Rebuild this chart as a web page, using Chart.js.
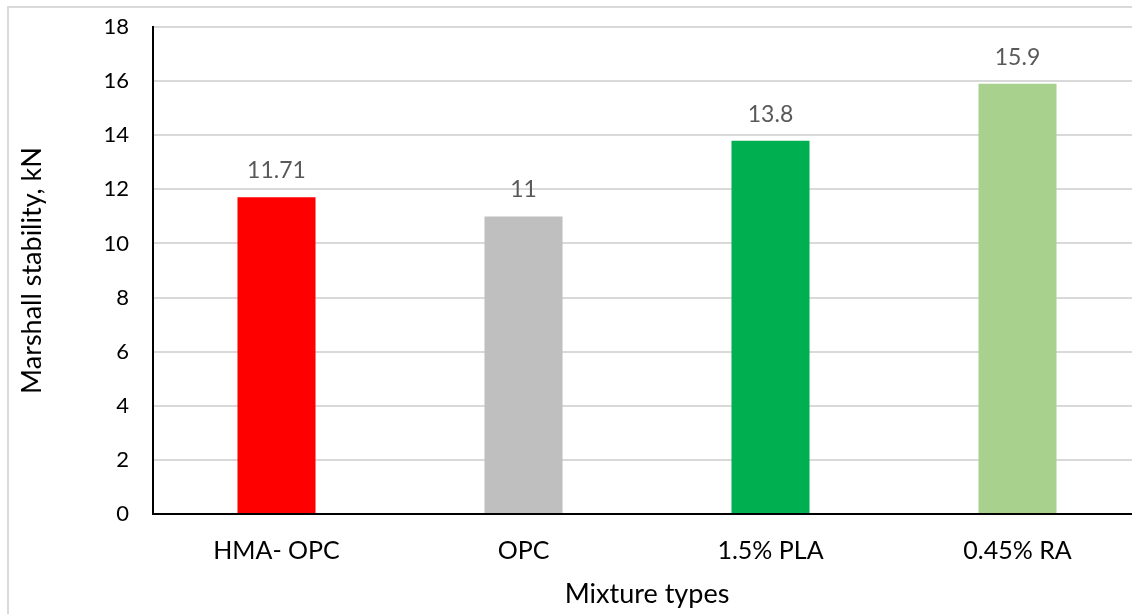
<!DOCTYPE html>
<html>
<head>
<meta charset="utf-8">
<script src="https://cdn.jsdelivr.net/npm/chart.js@4.4.0/dist/chart.umd.min.js"></script>
<style>
  html, body { margin: 0; padding: 0; background: #fff; overflow: hidden; }
  body { width: 1132px; height: 614px; position: relative; }
  #frame { position: absolute; left: 7px; top: 6px; width: 1200px; height: 700px; border: 2px solid #d9d9d9; }
  #wrap { position: absolute; left: 0; top: 0; width: 1141px; height: 614px; }
</style>
</head>
<body>
<div id="frame"></div>
<div id="wrap"><canvas id="grafico"></canvas></div>
<script>
// categorie e valori
var miscele = ['HMA- OPC', 'OPC', '1.5% PLA', '0.45% RA'];
var stabilita = [11.71, 11, 13.8, 15.9];
var etichette = ['11.71', '11', '13.8', '15.9'];
var colori = ['#ff0000', '#bfbfbf', '#00b050', '#a9d18e'];

var font = 'Lato, "Open Sans", sans-serif';

// scrive il valore sopra ogni barra
var valoriSopra = {
    id: 'valoriSopra',
    afterDatasetsDraw: function (chart) {
        var ctx = chart.ctx;
        var meta = chart.getDatasetMeta(0);
        ctx.save();
        ctx.font = '23px ' + font;
        ctx.fillStyle = '#595959';
        ctx.textAlign = 'center';
        ctx.textBaseline = 'bottom';
        meta.data.forEach(function (bar, i) {
            ctx.fillText(etichette[i], bar.x, bar.y - 15);
        });
        ctx.restore();
    }
};

var ctx = document.getElementById('grafico');
var chart = new Chart(ctx, {
    type: 'bar',
    data: {
        labels: miscele,
        datasets: [{
            data: stabilita,
            backgroundColor: colori,
            barPercentage: 0.316,
            categoryPercentage: 1
        }]
    },
    options: {
        responsive: true,
        maintainAspectRatio: false,
        animation: false,
        layout: { padding: { left: 0, right: 0, top: 27, bottom: 0 } },
        plugins: {
            legend: { display: false },
            tooltip: { enabled: false }
        },
        scales: {
            x: {
                grid: { display: false, drawTicks: false },
                border: { color: '#000', width: 2 },
                ticks: { color: '#000', font: { family: font, size: 25 }, padding: 22 },
                title: { display: true, text: 'Mixture types', color: '#000', font: { family: font, size: 27 }, padding: { top: 10 } },
                afterFit: function (scale) { scale.height = 100; }
            },
            y: {
                min: 0,
                max: 18,
                ticks: { stepSize: 2, color: '#000', font: { family: font, size: 22 }, padding: 24 },
                grid: { color: '#d9d9d9', lineWidth: 2, drawTicks: false },
                border: { color: '#000', width: 2 },
                title: { display: true, text: 'Marshall stability, kN', color: '#000', font: { family: font, size: 27 }, padding: { top: 16, bottom: 0 } },
                afterFit: function (scale) {
                    scale.width = 153;
                    // il padding dei tick non deve spostare l'area del grafico
                    scale.paddingTop = 0;
                    scale.paddingBottom = 0;
                }
            }
        }
    },
    plugins: [valoriSopra]
});
</script>
</body>
</html>
